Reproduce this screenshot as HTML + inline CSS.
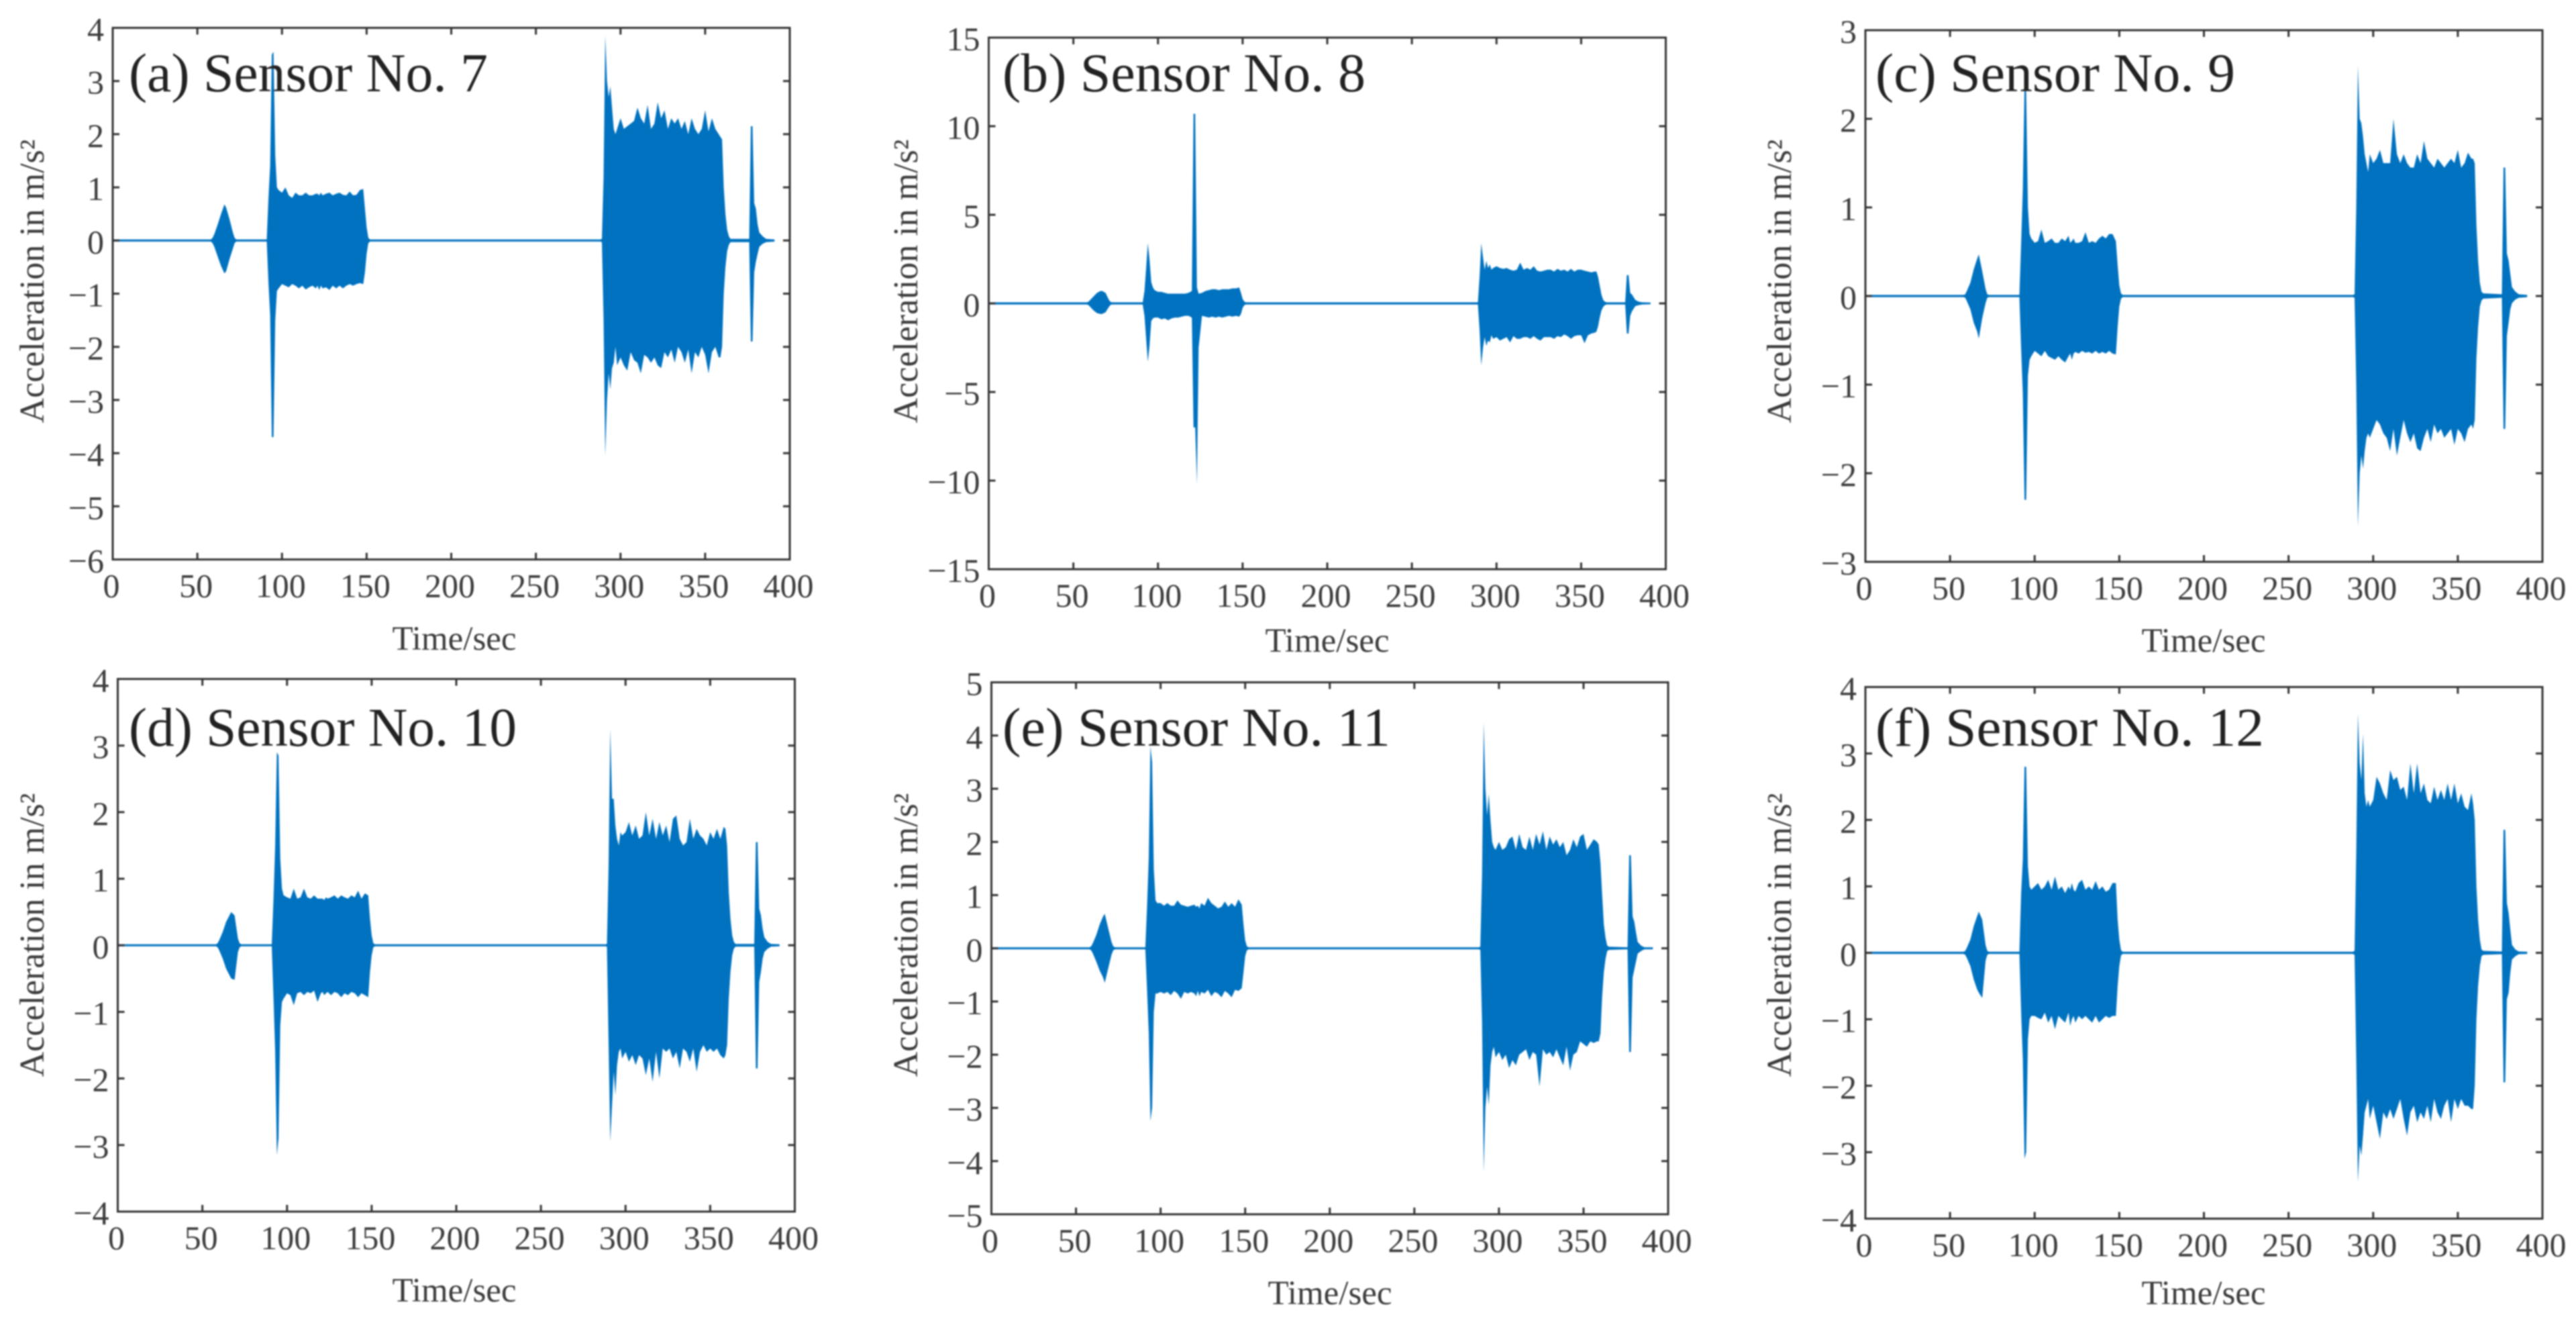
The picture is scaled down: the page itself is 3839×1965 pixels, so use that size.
<!DOCTYPE html>
<html lang="en">
<head>
<meta charset="utf-8">
<title>Sensor acceleration time histories</title>
<style>
html,body{margin:0;padding:0;background:#fff;width:3839px;height:1965px;overflow:hidden}
#figure{display:block;filter:blur(1.1px)}
text{font-family:"Liberation Serif",serif}
</style>
</head>
<body>
<svg id="figure" xmlns="http://www.w3.org/2000/svg" width="3839" height="1965" viewBox="0 0 3839 1965"></svg>
<script>
const times = [
0,58,59,60,62,64,66,67,69,71,72,73,91,
92,93,94,95,96,97,98,
100,102,104,106,108,110,112,114,116,118,
120,121,122,123,124,
126,128,130,132,134,136,138,140,142,144,146,148,
149,150,151,152,288,
289,290,291,292,293,294,295,296,297,298,
300,302,304,306,308,310,312,314,316,318,320,322,324,326,328,
330,332,334,336,338,340,342,344,346,348,350,352,354,356,358,
359,360,361,362,363,364,365,
376,377,378,379,380,381,382,384,386,391];

const xTickValues = [0,50,100,150,200,250,300,350,400];
const yTicksA = [4,3,2,1,0,-1,-2,-3,-4,-5,-6];
const yTicksB = [15,10,5,0,-5,-10,-15];
const yTicksC = [3,2,1,0,-1,-2,-3];
const yTicksD = [4,3,2,1,0,-1,-2,-3,-4];
const yTicksE = [5,4,3,2,1,0,-1,-2,-3,-4,-5];
const yTicksF = [4,3,2,1,0,-1,-2,-3,-4];

const upperA = [
.02,.02,.05,.12,.3,.5,.68,.62,.4,.15,.05,.02,.02,
.8,1.4,3.5,3.55,1.6,1.0,.95,
.9,1.0,.85,.8,.9,.85,.85,.9,.85,.85,
.88,.88,.85,.9,.85,
.88,.9,.85,.88,.9,.86,.85,.92,.85,.86,.95,.97,
.6,.25,.05,.02,.02,
.03,1.2,3.85,3.0,2.7,2.9,2.5,2.1,2.0,2.1,
2.3,2.1,2.15,2.2,2.25,2.5,2.3,2.2,2.55,2.1,2.2,2.6,2.3,2.45,2.1,
2.3,2.2,2.3,2.1,2.25,2.0,2.3,2.1,2.0,2.1,2.45,2.05,2.3,2.1,2.0,
1.95,1.9,1.0,.5,.2,.08,.03,
.03,2.15,2.15,.7,.6,.3,.15,.08,.03,.02];
const lowerA = [
-.02,-.02,-.05,-.12,-.3,-.48,-.62,-.58,-.35,-.15,-.05,-.02,-.02,
-.8,-1.4,-3.7,-3.7,-1.5,-.95,-.9,
-.82,-.85,-.88,-.82,-.85,-.9,-.85,-.92,-.88,-.85,
-.9,-.85,-.93,-.85,-.9,
-.88,-.93,-.85,-.9,-.85,-.9,-.85,-.82,-.85,-.82,-.8,-.82,
-.6,-.25,-.05,-.02,-.02,
-.03,-1.5,-4.05,-3.0,-2.5,-2.8,-2.4,-2.3,-2.0,-2.35,
-2.2,-2.35,-2.45,-2.1,-2.25,-2.3,-2.5,-2.15,-2.2,-2.3,-2.2,-2.35,-2.4,-2.1,-2.2,
-2.05,-2.3,-2.0,-2.1,-2.3,-2.05,-2.5,-2.1,-2.2,-2.0,-2.15,-2.5,-2.1,-2.0,-2.2,
-2.2,-2.0,-1.0,-.5,-.2,-.08,-.03,
-.03,-1.9,-1.9,-.6,-.4,-.25,-.12,-.06,-.03,-.02];

const upperB = [
.06,.06,.1,.2,.4,.6,.7,.7,.6,.2,.08,.06,.06,
.7,2.0,3.4,2.5,1.2,.9,.75,
.65,.65,.6,.55,.55,.55,.55,.55,.55,.6,
.7,10.7,10.7,.9,.55,
.6,.7,.75,.8,.8,.75,.8,.8,.8,.85,.85,.9,
.6,.25,.1,.06,.06,
.07,1.5,3.4,2.6,1.9,2.4,2.0,2.2,1.9,2.0,
2.1,2.0,1.95,2.0,1.9,1.85,1.9,2.3,1.9,2.0,1.9,2.1,1.85,1.8,1.85,
1.9,1.9,1.8,1.95,1.85,1.9,1.8,1.95,1.8,1.9,1.9,1.85,1.8,1.75,1.8,
1.8,1.5,1.0,.5,.2,.1,.06,
.06,1.6,1.6,.6,.5,.35,.2,.1,.06,.05];
const lowerB = [
-.06,-.06,-.1,-.2,-.4,-.55,-.6,-.6,-.5,-.2,-.08,-.06,-.06,
-.7,-2.0,-3.3,-2.4,-1.0,-.85,-.8,
-.8,-.9,-.85,-.95,-.85,-.8,-.8,-.75,-.7,-.7,
-.8,-7,-7,-10.2,-2.5,
-.7,-.75,-.8,-.75,-.8,-.75,-.8,-.75,-.7,-.75,-.7,-.75,
-.6,-.25,-.1,-.06,-.06,
-.07,-1.5,-3.5,-2.5,-1.9,-2.4,-2.1,-2.2,-1.8,-2.0,
-1.9,-2.1,-2.0,-1.9,-2.2,-1.85,-2.0,-2.0,-1.9,-1.9,-2.0,-1.85,-2.0,-2.1,-1.9,
-1.9,-1.9,-2.0,-1.85,-1.9,-1.75,-1.85,-2.0,-1.85,-1.8,-1.8,-2.25,-1.8,-1.7,-1.65,
-1.6,-1.3,-.8,-.4,-.2,-.1,-.06,
-.06,-1.7,-1.7,-.7,-.45,-.3,-.15,-.1,-.06,-.05];

const upperC = [
.012,.012,.02,.06,.15,.3,.42,.47,.28,.08,.02,.012,.012,
.6,1.2,2.35,2.3,1.0,.7,.65,
.6,.62,.75,.6,.62,.65,.6,.6,.65,.62,
.68,.6,.62,.65,.6,
.6,.62,.72,.6,.62,.6,.65,.68,.65,.7,.7,.62,
.35,.12,.03,.012,.012,
.02,1.0,2.6,2.0,1.95,1.8,1.6,1.5,1.4,1.6,
1.5,1.55,1.65,1.5,1.5,1.5,2.0,1.6,1.5,1.6,1.5,1.45,1.45,1.6,1.5,
1.75,1.55,1.5,1.45,1.55,1.5,1.45,1.5,1.55,1.5,1.65,1.45,1.5,1.62,1.55,
1.55,1.5,.8,.4,.15,.05,.03,
.02,1.45,1.45,.48,.4,.25,.1,.05,.02,.012];
const lowerC = [
-.012,-.012,-.02,-.06,-.15,-.3,-.4,-.48,-.25,-.08,-.02,-.012,-.012,
-.6,-1.1,-2.3,-2.3,-.9,-.72,-.68,
-.62,-.65,-.68,-.62,-.68,-.7,-.72,-.68,-.72,-.75,
-.68,-.65,-.72,-.65,-.63,
-.65,-.62,-.64,-.63,-.65,-.62,-.65,-.63,-.65,-.62,-.65,-.66,
-.35,-.12,-.03,-.012,-.012,
-.02,-1.0,-2.6,-2.0,-1.8,-1.95,-1.75,-1.6,-1.55,-1.6,
-1.5,-1.4,-1.45,-1.55,-1.6,-1.75,-1.5,-1.8,-1.6,-1.4,-1.55,-1.65,-1.55,-1.72,-1.75,
-1.6,-1.5,-1.65,-1.45,-1.55,-1.5,-1.6,-1.55,-1.5,-1.68,-1.5,-1.55,-1.65,-1.5,-1.45,
-1.5,-1.4,-.7,-.35,-.12,-.05,-.03,
-.02,-1.5,-1.5,-.45,-.3,-.15,-.08,-.04,-.02,-.012];

const upperD = [
.016,.016,.03,.08,.2,.35,.45,.5,.45,.1,.03,.016,.016,
.7,1.5,2.9,2.85,1.3,.85,.75,
.72,.7,.85,.7,.72,.85,.72,.7,.75,.7,
.7,.7,.68,.72,.7,
.72,.75,.7,.75,.72,.7,.75,.72,.82,.7,.78,.75,
.4,.15,.03,.016,.016,
.02,1.2,3.25,2.2,2.2,1.8,1.6,1.5,1.7,1.65,
1.7,1.85,1.65,1.8,1.6,1.65,2.0,1.65,1.9,1.6,1.85,1.65,1.8,1.55,1.9,
1.95,1.6,1.5,1.55,1.9,1.6,1.75,1.65,1.6,1.5,1.7,1.6,1.75,1.6,1.78,
1.75,1.5,.8,.4,.15,.05,.02,
.02,1.55,1.55,.55,.45,.25,.12,.05,.02,.016];
const lowerD = [
-.016,-.016,-.03,-.08,-.2,-.35,-.45,-.5,-.52,-.1,-.03,-.016,-.016,
-.8,-1.6,-3.15,-2.9,-1.2,-.85,-.8,
-.72,-.75,-.9,-.72,-.7,-.75,-.7,-.72,-.68,-.85,
-.72,-.7,-.75,-.72,-.7,
-.75,-.7,-.72,-.78,-.72,-.75,-.7,-.72,-.78,-.72,-.75,-.78,
-.4,-.15,-.03,-.016,-.016,
-.02,-1.5,-2.95,-2.4,-1.9,-2.25,-1.8,-1.6,-1.55,-1.7,
-1.6,-1.75,-1.65,-1.8,-1.65,-1.7,-1.95,-1.7,-2.05,-1.6,-2.0,-1.55,-1.6,-1.55,-1.7,
-1.6,-1.85,-1.55,-1.6,-1.75,-1.55,-1.9,-1.6,-1.5,-1.6,-1.55,-1.6,-1.55,-1.65,-1.7,
-1.65,-1.5,-.8,-.4,-.15,-.05,-.02,
-.02,-1.85,-1.85,-.55,-.4,-.2,-.1,-.05,-.02,-.016];

const upperE = [
.02,.02,.04,.1,.25,.45,.6,.65,.38,.12,.04,.02,.02,
.8,1.7,3.8,3.5,1.5,.9,.85,
.85,.8,.85,.8,.8,.9,.82,.8,.78,.8,
.82,.78,.8,.75,.85,
.8,.95,.85,.8,.75,.78,.88,.78,.85,.78,.92,.82,
.45,.15,.04,.02,.02,
.03,1.4,4.25,3.0,2.5,2.9,2.4,2.0,1.9,1.85,
2.0,1.85,1.9,2.05,2.1,1.85,2.15,1.9,1.85,2.1,1.85,2.15,1.95,2.2,1.85,
2.1,1.95,2.05,1.9,2.0,1.75,1.85,2.05,1.9,2.1,2.15,1.85,1.95,2.05,2.0,
1.95,1.6,1.0,.45,.2,.05,.03,
.02,1.75,1.75,.6,.5,.3,.12,.05,.02,.02];
const lowerE = [
-.02,-.02,-.04,-.1,-.25,-.42,-.55,-.65,-.38,-.12,-.04,-.02,-.02,
-.8,-1.6,-3.25,-3.0,-1.2,-.85,-.85,
-.82,-.85,-.82,-.88,-.8,-.85,-.95,-.82,-.85,-.82,
-.85,-.9,-.8,-.9,-.82,
-.85,-.78,-.9,-.82,-.85,-.92,-.8,-.85,-.92,-.78,-.8,-.75,
-.45,-.15,-.04,-.02,-.02,
-.03,-1.4,-4.2,-3.0,-2.6,-2.95,-2.2,-1.95,-1.85,-2.05,
-1.95,-2.1,-2.0,-2.25,-2.1,-2.2,-2.0,-1.95,-1.9,-2.1,-1.95,-2.0,-2.6,-1.9,-2.0,
-1.95,-2.05,-1.9,-2.05,-2.2,-1.85,-2.3,-2.0,-1.95,-1.75,-1.8,-1.85,-1.75,-1.78,-1.75,
-1.75,-1.6,-.9,-.45,-.2,-.05,-.03,
-.02,-1.95,-1.95,-.55,-.4,-.25,-.1,-.05,-.02,-.02];

const upperF = [
.016,.016,.03,.08,.2,.4,.55,.62,.5,.12,.03,.016,.016,
.9,1.4,2.8,2.8,1.3,1.0,.95,
1.0,1.05,.95,1.0,1.1,.95,1.15,.95,1.0,.9,
1.0,.95,1.05,.95,.92,
1.05,1.1,.95,1.0,.95,1.08,.95,1.0,.92,.95,1.05,1.05,
.5,.2,.04,.016,.016,
.03,1.5,3.6,2.85,2.6,3.3,2.4,2.2,2.3,2.2,
2.3,2.65,2.55,2.4,2.3,2.75,2.6,2.65,2.45,2.5,2.3,2.85,2.4,2.85,2.4,
2.55,2.3,2.25,2.5,2.3,2.45,2.3,2.55,2.3,2.55,2.25,2.4,2.2,2.15,2.4,
2.25,2.0,1.0,.5,.2,.05,.03,
.02,1.85,1.85,.75,.6,.35,.12,.05,.02,.016];
const lowerF = [
-.016,-.016,-.03,-.08,-.2,-.4,-.55,-.6,-.68,-.12,-.03,-.016,-.016,
-.9,-1.6,-3.1,-3.0,-1.3,-1.0,-.95,
-.95,-.98,-1.0,-.9,-1.05,-.95,-1.15,-.95,-1.0,-1.05,
-.9,-1.1,-1.0,-.95,-1.05,
-.95,-1.0,-.95,-1.0,-1.05,-.95,-1.05,-1.0,-.95,-.98,-.95,-.95,
-.5,-.2,-.04,-.016,-.016,
-.03,-1.6,-3.45,-2.9,-3.05,-2.75,-2.4,-2.3,-2.2,-2.5,
-2.3,-2.55,-2.8,-2.4,-2.5,-2.35,-2.5,-2.35,-2.2,-2.5,-2.75,-2.4,-2.3,-2.55,-2.4,
-2.5,-2.3,-2.55,-2.2,-2.4,-2.5,-2.3,-2.2,-2.55,-2.2,-2.35,-2.2,-2.3,-2.3,-2.35,
-2.35,-2.0,-1.0,-.5,-.2,-.05,-.03,
-.02,-1.95,-1.95,-.7,-.6,-.3,-.1,-.05,-.02,-.016];

const panels = [
 {id:'a',title:'(a) Sensor No. 7', upper:upperA,lower:lowerA,yTicks:yTicksA,box:[168,1177,41.5,833.5],titleAt:[192,136,535],yLabelAt:[65,419],xLabelAt:[677,968]},
 {id:'b',title:'(b) Sensor No. 8', upper:upperB,lower:lowerB,yTicks:yTicksB,box:[1473.5,2482.5,56,848],titleAt:[1494,136,541],yLabelAt:[1367,419],xLabelAt:[1978,971]},
 {id:'c',title:'(c) Sensor No. 9', upper:upperC,lower:lowerC,yTicks:yTicksC,box:[2780,3789,45,837],titleAt:[2795,136,536],yLabelAt:[2669,419],xLabelAt:[3284,971]},
 {id:'d',title:'(d) Sensor No. 10',upper:upperD,lower:lowerD,yTicks:yTicksD,box:[175.5,1184.5,1011.5,1805],titleAt:[192,1111,578],yLabelAt:[65,1393],xLabelAt:[677,1939]},
 {id:'e',title:'(e) Sensor No. 11',upper:upperE,lower:lowerE,yTicks:yTicksE,box:[1477.5,2486,1016.5,1809],titleAt:[1494,1111,578],yLabelAt:[1367,1393],xLabelAt:[1982,1943]},
 {id:'f',title:'(f) Sensor No. 12',upper:upperF,lower:lowerF,yTicks:yTicksF,box:[2780,3789,1023.5,1815.5],titleAt:[2795,1111,579],yLabelAt:[2669,1393],xLabelAt:[3284,1943]}
];

const NS = 'http://www.w3.org/2000/svg';
const figure = document.getElementById('figure');
const TICK_LEN = 10;

function svgEl(tag, attrs, parent) {
  const el = document.createElementNS(NS, tag);
  for (const k in attrs) el.setAttribute(k, attrs[k]);
  parent.appendChild(el);
  return el;
}
function fmt(v) {
  return v < 0 ? '\u2212' + Math.abs(v) : String(v);
}

panels.forEach(function (p) {
  const left = p.box[0], right = p.box[1], top = p.box[2], bottom = p.box[3];
  const yMax = Math.max.apply(null, p.yTicks), yMin = Math.min.apply(null, p.yTicks);
  const xScale = function (t) { return left + (t / 400) * (right - left); };
  const yScale = function (v) { return bottom - ((v - yMin) / (yMax - yMin)) * (bottom - top); };

  const g = svgEl('g', {}, figure);
  
  

  // signal envelope
  const pts = [];
  times.forEach(function (t, i) { pts.push(xScale(t).toFixed(1) + ',' + yScale(p.upper[i]).toFixed(1)); });
  for (let i = times.length - 1; i >= 0; i--) pts.push(xScale(times[i]).toFixed(1) + ',' + yScale(p.lower[i]).toFixed(1));
  const signal = svgEl('polygon', {points: pts.join(' '), fill: '#0072bf', stroke: 'none'}, g);
  
  

  // frame
  const frame = svgEl('rect', {x: left, y: top, width: right - left, height: bottom - top, fill: 'none', stroke: '#333', 'stroke-width': 3}, g);
  
  

  // x ticks
  xTickValues.forEach(function (v) {
    const x = xScale(v);
    const tick = svgEl('path', {d: 'M' + x + ' ' + bottom + 'v' + (-TICK_LEN) + 'M' + x + ' ' + top + 'v' + TICK_LEN, stroke: '#333', 'stroke-width': 3, fill: 'none'}, g);
    
    
    const lab = svgEl('text', {x: x - 2, y: bottom + 56, 'text-anchor': 'middle', 'font-size': 50, fill: '#3c3c3c'}, g);
    lab.textContent = fmt(v);
    
    
  });

  // y ticks
  p.yTicks.forEach(function (v) {
    const y = yScale(v);
    const tick = svgEl('path', {d: 'M' + left + ' ' + y + 'h' + TICK_LEN + 'M' + right + ' ' + y + 'h' + (-TICK_LEN), stroke: '#333', 'stroke-width': 3, fill: 'none'}, g);
    
    
    const lab = svgEl('text', {x: left - 13, y: y + 19, 'text-anchor': 'end', 'font-size': 50, fill: '#3c3c3c'}, g);
    lab.textContent = fmt(v);
    
    
  });

  // title
  const title = svgEl('text', {x: p.titleAt[0], y: p.titleAt[1], 'font-size': 82, fill: '#222', textLength: p.titleAt[2], lengthAdjust: 'spacingAndGlyphs'}, g);
  title.textContent = p.title;
  
  

  // axis labels
  const yLabel = svgEl('text', {transform: 'translate(' + p.yLabelAt[0] + ' ' + p.yLabelAt[1] + ') rotate(-90)', 'text-anchor': 'middle', 'font-size': 52, fill: '#3c3c3c'}, g);
  yLabel.textContent = 'Acceleration in m/s\u00B2';
  
  

  const xLabel = svgEl('text', {x: p.xLabelAt[0], y: p.xLabelAt[1], 'text-anchor': 'middle', 'font-size': 51, fill: '#3c3c3c'}, g);
  xLabel.textContent = 'Time/sec';
  
  
});
</script>
</body>
</html>
